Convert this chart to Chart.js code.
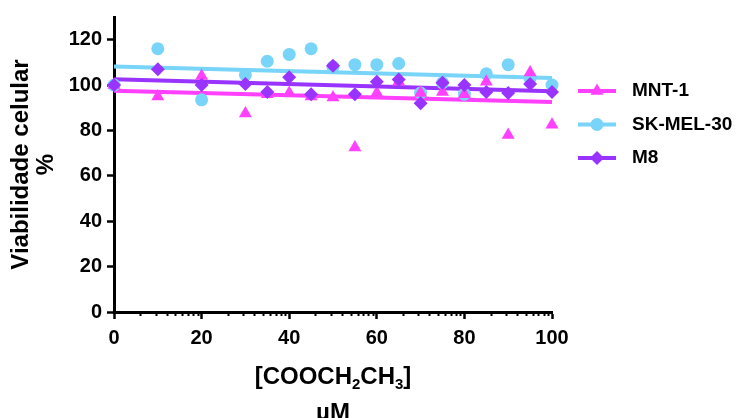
<!DOCTYPE html>
<html>
<head>
<meta charset="utf-8">
<script src="https://cdn.jsdelivr.net/npm/chart.js@4.4.1/dist/chart.umd.min.js"></script>
<style>
  html, body { margin: 0; padding: 0; background: #fff; }
  #wrap { width: 736px; height: 418px; }
</style>
</head>
<body>
<div id="wrap"><canvas id="chart" width="736" height="418"></canvas></div>
<script>
// concentrations (uM) and cell viability (%)
const concentrations = [0, 10, 20, 30, 35, 40, 45, 50, 55, 60, 65, 70, 75, 80, 85, 90, 95, 100];
const mnt1    = [100, 95, 104, 87.5, 96, 96.5, 95, 94.5, 72.5, 96.5, 101.5, 96.5, 97, 96, 101.5, 78, 105.5, 82.5];
const skMel30 = [100, 116, 93.5, 104.5, 110.5, 113.5, 116, 108, 109, 109, 109.5, 96.5, 101, 96, 105, 109, 103, 100];
const m8      = [100, 107, 100, 100.5, 97, 103.5, 96, 108.5, 96, 101.5, 102.5, 92, 101, 100, 97, 96.5, 100.5, 97];

// linear fit lines: value at start and end of the range
const fitRange   = [0, 100];
const mnt1Fit    = [97.5, 92.5];
const skMel30Fit = [108.2, 103.1];
const m8Fit      = [102.6, 97.3];

const seriesNames = ["MNT-1", "SK-MEL-30", "M8"];
const yTicks = [0, 20, 40, 60, 80, 100, 120];
const xTicks = [0, 20, 40, 60, 80, 100];
const xMinorSteps = [6, 9.5, 12, 14, 15.6, 16.9, 18.1, 19.1]; // inside each 20 step

const MAGENTA = "#ff40ff";
const CYAN = "#78d4f8";
const PURPLE = "#9933ff";
const FONT = '"Liberation Sans", Arial, sans-serif';

function points(values) {
  return concentrations.map((c, i) => ({ x: c, y: values[i] }));
}
function fitLine(ends) {
  return fitRange.map((x, i) => ({ x: x, y: ends[i] }));
}

const series = [
  { name: seriesNames[2], data: m8, fit: m8Fit, color: PURPLE, style: "rectRot", radius: 7 },
  { name: seriesNames[0], data: mnt1, fit: mnt1Fit, color: MAGENTA, style: "triangle", radius: 7.5 },
  { name: seriesNames[1], data: skMel30, fit: skMel30Fit, color: CYAN, style: "circle", radius: 6.5 }
];

const datasets = [];
series.forEach(s => {
  datasets.push({
    label: s.name,
    data: points(s.data),
    showLine: false,
    pointStyle: s.style,
    pointRadius: s.radius,
    pointBackgroundColor: s.color,
    pointBorderWidth: 0,
    clip: false,
    order: 1
  });
});
series.forEach(s => {
  datasets.push({
    label: s.name + " fit",
    data: fitLine(s.fit),
    showLine: true,
    borderColor: s.color,
    borderWidth: 4,
    pointRadius: 0,
    clip: false,
    order: 2
  });
});

// log-looking minor ticks on the x axis
const minorTicks = {
  id: "minorTicks",
  afterDraw(chart) {
    const ctx = chart.ctx, xs = chart.scales.x, y0 = chart.chartArea.bottom;
    ctx.save();
    ctx.strokeStyle = "#000";
    ctx.lineWidth = 2;
    for (let i = 0; i < xTicks.length - 1; i++) {
      xMinorSteps.forEach(step => {
        const px = Math.round(xs.getPixelForValue(xTicks[i] + step)) + 0.5;
        ctx.beginPath();
        ctx.moveTo(px, y0);
        ctx.lineTo(px, y0 + 4);
        ctx.stroke();
      });
    }
    ctx.restore();
  }
};

// x axis title with subscripts
const xTitle = {
  id: "xTitle",
  afterDraw(chart) {
    const ctx = chart.ctx, area = chart.chartArea;
    const cx = (area.left + area.right) / 2;
    const big = "bold 24px " + FONT, small = "bold 15px " + FONT;
    const parts = [["[COOCH", 0], ["2", 1], ["CH", 0], ["3", 1], ["]", 0]];
    ctx.save();
    ctx.fillStyle = "#000";
    ctx.textBaseline = "alphabetic";
    let total = 0;
    parts.forEach(p => { ctx.font = p[1] ? small : big; total += ctx.measureText(p[0]).width; });
    let x = cx - total / 2;
    parts.forEach(p => {
      ctx.font = p[1] ? small : big;
      ctx.textAlign = "left";
      ctx.fillText(p[0], x, p[1] ? 389 : 384);
      x += ctx.measureText(p[0]).width;
    });
    ctx.font = big;
    ctx.textAlign = "center";
    ctx.fillText("µM", cx, 420);
    ctx.restore();
  }
};

// legend: line with marker, then name
const legendBox = {
  id: "legendBox",
  afterDraw(chart) {
    const ctx = chart.ctx;
    const order = [series[1], series[2], series[0]];
    ctx.save();
    order.forEach((s, i) => {
      const y = 91 + i * 33.5;
      ctx.strokeStyle = s.color;
      ctx.lineWidth = 4;
      ctx.beginPath();
      ctx.moveTo(578, y);
      ctx.lineTo(616, y);
      ctx.stroke();
      ctx.fillStyle = s.color;
      Chart.helpers.drawPoint(ctx, { pointStyle: s.style, radius: s.radius, rotation: 0, borderWidth: 0 }, 597, y);
      ctx.fillStyle = "#000";
      ctx.font = "bold 19px " + FONT;
      ctx.textAlign = "left";
      ctx.textBaseline = "middle";
      ctx.fillText(s.name, 632, y);
    });
    ctx.restore();
  }
};

new Chart(document.getElementById("chart"), {
  type: "scatter",
  data: { datasets: datasets },
  options: {
    responsive: false,
    animation: false,
    layout: { padding: { left: 0, top: 15, right: 184, bottom: 0 } },
    plugins: { legend: { display: false }, tooltip: { enabled: false } },
    scales: {
      x: {
        type: "linear",
        min: 0,
        max: 100,
        afterBuildTicks: scale => { scale.ticks = xTicks.map(v => ({ value: v })); },
        afterFit: scale => { scale.height = 106; },
        border: { color: "#000", width: 3 },
        grid: { drawOnChartArea: false, tickLength: 7, tickWidth: 2.5, tickColor: "#000" },
        ticks: { color: "#000", padding: 7, maxRotation: 0, font: { family: FONT, size: 20, weight: "bold" } }
      },
      y: {
        type: "linear",
        min: 0,
        max: 130,
        afterBuildTicks: scale => { scale.ticks = yTicks.map(v => ({ value: v })); },
        afterFit: scale => { scale.width = 114; },
        border: { color: "#000", width: 3 },
        grid: { drawOnChartArea: false, tickLength: 7, tickWidth: 2.5, tickColor: "#000" },
        ticks: { color: "#000", padding: 5, font: { family: FONT, size: 20, weight: "bold" } },
        title: {
          display: true,
          text: ["Viabilidade celular", "%"],
          color: "#000",
          padding: { top: 9, bottom: 0 },
          font: { family: FONT, size: 24, weight: "bold", lineHeight: 1.05 }
        }
      }
    }
  },
  plugins: [minorTicks, xTitle, legendBox]
});
</script>
</body>
</html>
